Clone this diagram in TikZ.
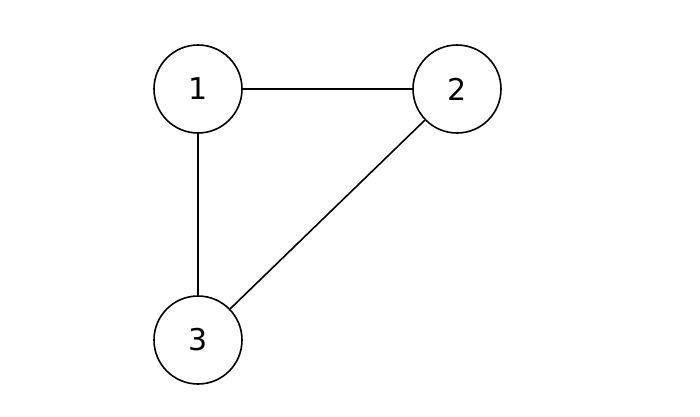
\documentclass[tikz,border=0pt]{standalone}
\usepackage{fontspec}
\setmainfont{DejaVu Sans}
\usetikzlibrary{positioning}

\begin{document}
\begin{tikzpicture}[x=1pt,y=-1pt,line width=1.6pt,
 vertex/.style={draw,circle,minimum size=88pt,inner sep=0pt,font=\fontsize{30}{34}\selectfont}]
\useasboundingbox (0,0) rectangle (700,416);
\node[vertex] (n1) at (198,89) {1};
\node[vertex] (n2) at (457,89) {2};
\node[vertex] (n3) at (198,340) {3};
\draw (n1) -- (n2);
\draw (n1) -- (n3);
\draw (n2) -- (n3);
\end{tikzpicture}
\end{document}
